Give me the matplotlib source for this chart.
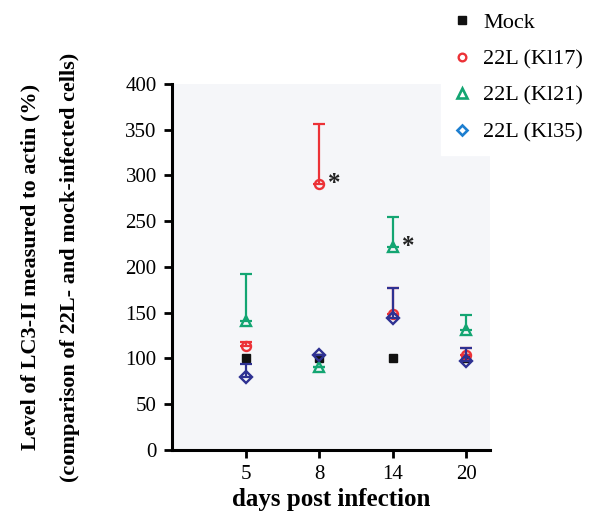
import numpy as np
import matplotlib
matplotlib.use("Agg")
import matplotlib.pyplot as plt
from matplotlib.lines import Line2D

# data
days = ["5", "8", "14", "20"]
mock = [100, 100, 100, 100]
kl17 = [114, 291, 149, 104]
kl17_err = [4, 65, 28, 7]
kl21 = [141, 91, 222, 131]
kl21_err = [51, 0, 33, 17]
kl35 = [80, 104, 144, 97]
kl35_err = [14, 0, 33, 14]
star_days = [1, 2]          # index of the day with a star
star_vals = [291, 222]

plt.rcParams["font.family"] = ["Liberation Serif", "DejaVu Serif"]

red = "#ec3237"
green = "#13a572"
blue = "#2e3192"
legend_blue = "#1d7fd0"

fig = plt.figure(figsize=(5.9, 5.17), dpi=100)
ax = fig.add_axes([0.2915, 0.1296, 0.539, 0.708])
ax.set_facecolor("#f5f6f9")

x = np.arange(1, len(days) + 1)

def series(vals, err, color, marker, ms, z):
    vals = np.array(vals, dtype=float)
    err = np.array(err, dtype=float)
    ax.errorbar(x, vals, yerr=[np.zeros_like(err), err], fmt="none",
                ecolor=color, elinewidth=1.6, capsize=4.3, capthick=1.6, zorder=z)
    ax.plot(x, vals, linestyle="none", marker=marker, ms=ms, mfc="none",
            mec=color, mew=1.7, zorder=z + 0.5)

ax.plot(x, mock, linestyle="none", marker="s", ms=6, color="#111111", zorder=2)
series(kl21, kl21_err, green, "^", 7.5, 3)
series(kl17, kl17_err, red, "o", 6.5, 4)
series(kl35, kl35_err, blue, "D", 6.5, 5)

for i, v in zip(star_days, star_vals):
    ax.text(x[i] + 0.12, v, "*", fontsize=18, fontweight="bold", va="center",
            ha="left", color="#222222")

ax.set_xlim(0, 4.32)
ax.set_ylim(0, 400)
ax.set_yticks(np.arange(0, 401, 50))
ax.set_xticks(x)
ax.set_xticklabels(days)
for s in ["top", "right"]:
    ax.spines[s].set_visible(False)
for s in ["left", "bottom"]:
    ax.spines[s].set_linewidth(2.2)
ax.tick_params(direction="out", length=6, width=2, labelsize=15, pad=5)

ax.set_xlabel("days post infection", fontsize=18, fontweight="bold", labelpad=2.5)
ax.set_ylabel("Level of LC3-II measured to actin (%)\n"
              "(comparison of 22L- and mock-infected cells)",
              fontsize=16, fontweight="bold", linespacing=2.3)
ax.yaxis.set_label_coords(-0.289, 0.5)

handles = [
    Line2D([], [], linestyle="none", marker="s", ms=6, color="#111111"),
    Line2D([], [], linestyle="none", marker="o", ms=5.5, mfc="none", mec=red, mew=1.7),
    Line2D([], [], linestyle="none", marker="^", ms=7, mfc="none", mec=green, mew=1.9),
    Line2D([], [], linestyle="none", marker="D", ms=5.5, mfc="none", mec=legend_blue, mew=1.9),
]
labels = ["Mock", "22L (Kl17)", "22L (Kl21)", "22L (Kl35)"]
leg = fig.legend(handles, labels, loc="upper left", bbox_to_anchor=(0.747, 1.0),
                 frameon=True, facecolor="white", edgecolor="white", framealpha=1,
                 fontsize=16, handlelength=0.8, handletextpad=0.55, labelspacing=0.72,
                 borderpad=0.55, fancybox=False, borderaxespad=0)
leg.set_zorder(10)

fig.savefig("out.png", dpi=100)
